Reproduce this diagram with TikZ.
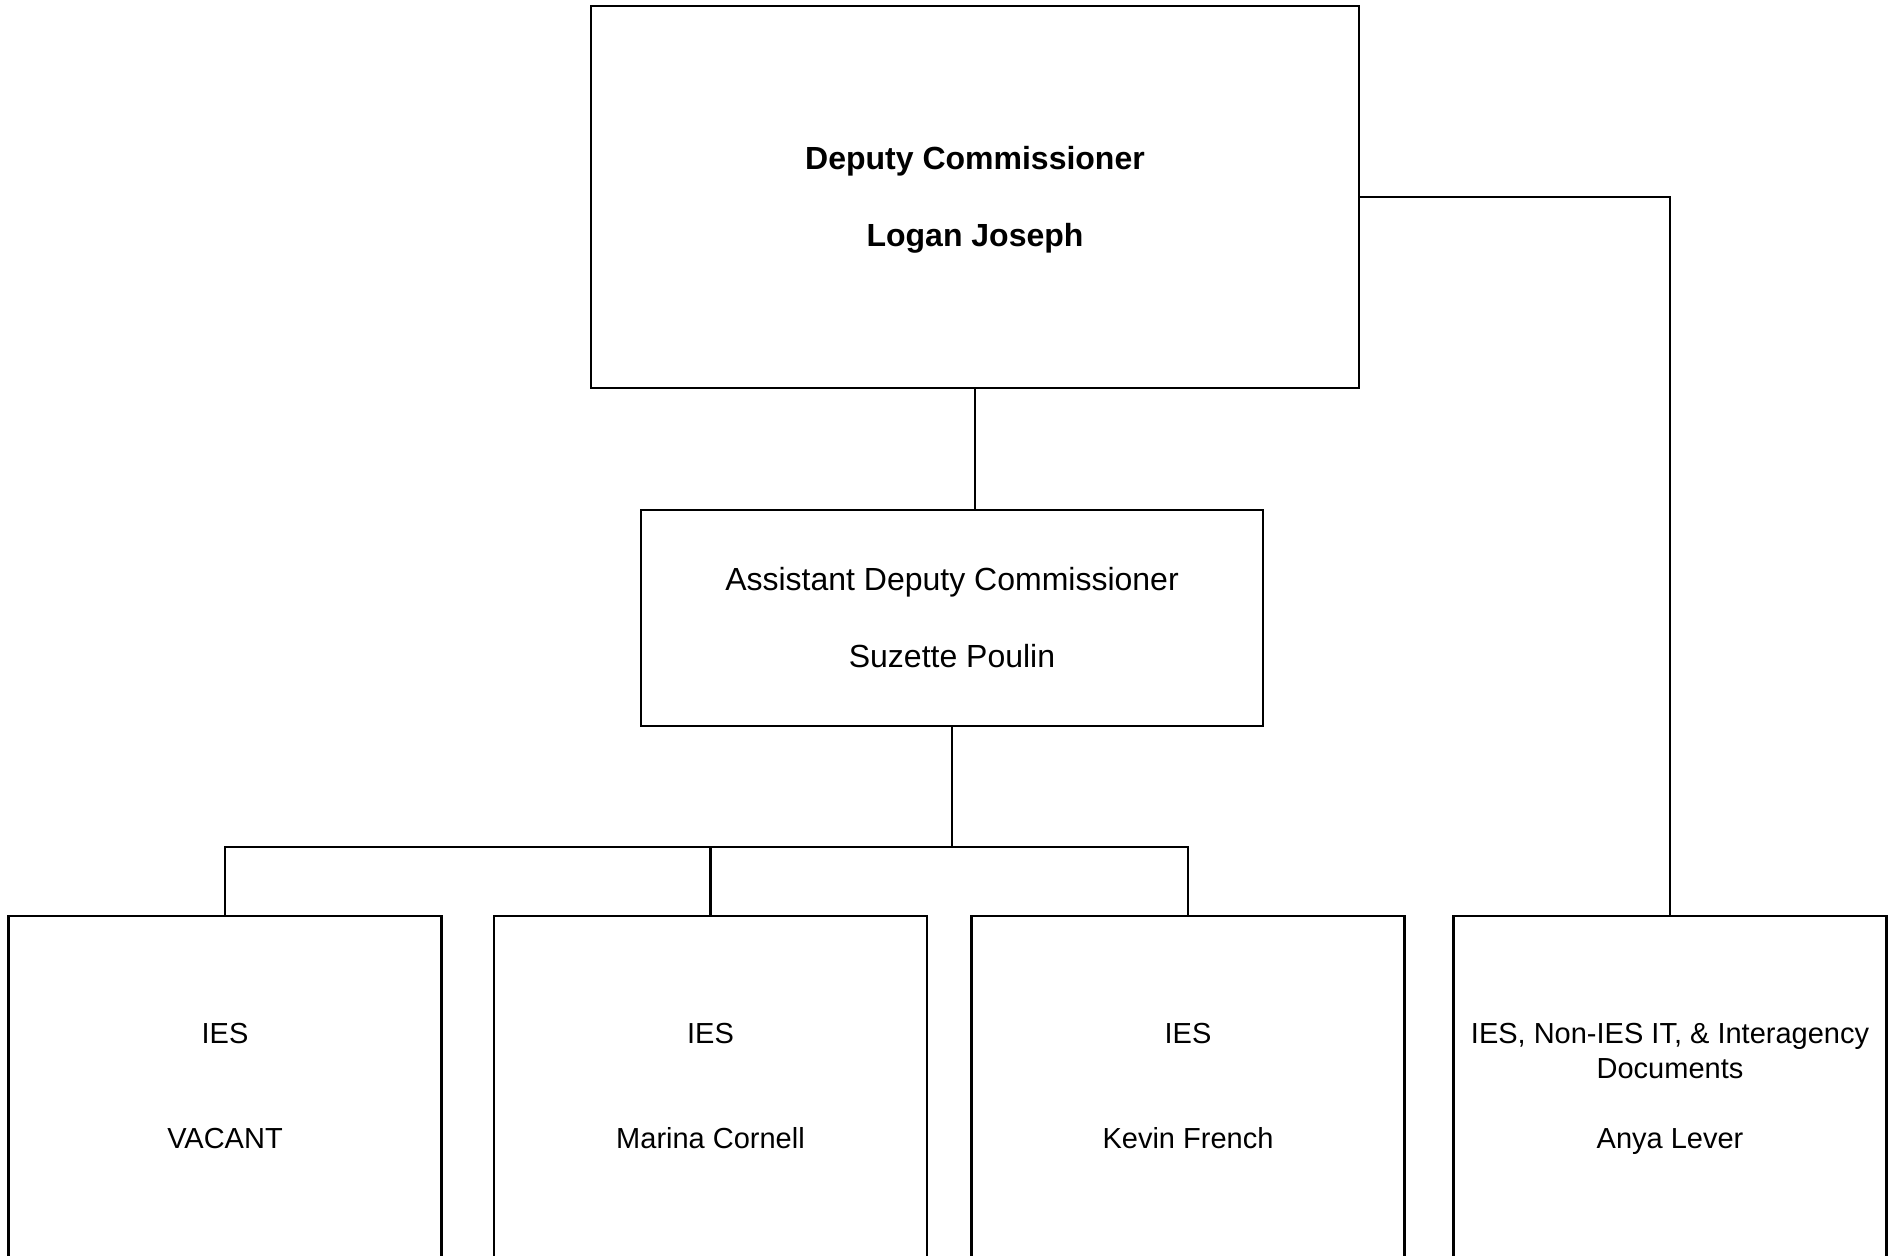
\documentclass[tikz,border=0pt]{standalone}
\usepackage{fontspec}
\setmainfont{Liberation Sans}
\usepackage{tikz}

\newcommand{\headstrut}{\rule{0pt}{16.5pt}}

\tikzset{
    orgbox/.style={rectangle, draw, line width=1.15pt, align=center, inner sep=0pt},
    headbox/.style={orgbox, minimum width=384pt, minimum height=191pt, font=\fontsize{16}{19.25}\selectfont\bfseries},
    midbox/.style={orgbox, minimum width=311pt, minimum height=108pt, font=\fontsize{16}{19.25}\selectfont},
    unitbox/.style={orgbox, minimum width=216.5pt, minimum height=172.5pt, font=\fontsize{14.5}{17.5}\selectfont},
    link/.style={line width=1.15pt}
}

\begin{document}
\begin{tikzpicture}[x=0.5pt, y=-0.5pt]
        \useasboundingbox (0,0) rectangle (1895,1255);
        \clip (0,0) rectangle (1895,1255);

        \node [headbox] (head) at (975,197) {\headstrut Deputy Commissioner\\[\baselineskip]Logan Joseph\strut};
        \node [midbox] (assist) at (952,618) {\headstrut Assistant Deputy Commissioner\\[\baselineskip]Suzette Poulin\strut};

        \node [unitbox] (iesa) at (225,1088.5) {\strut IES\\[2\baselineskip]VACANT\strut};
        \node [unitbox] (iesb) at (710.5,1088.5) {\strut IES\\[2\baselineskip]Marina Cornell\strut};
        \node [unitbox] (iesc) at (1188,1088.5) {\strut IES\\[2\baselineskip]Kevin French\strut};
        \node [unitbox] (docs) at (1670,1088.5) {\strut IES, Non-IES IT, \& Interagency\\Documents\\[\baselineskip]Anya Lever\strut};

        \draw [link] (head.south) -- (head.south |- assist.north);
        \draw [link] (assist.south) -- ++(0,120) coordinate (bus);
        \draw [link] (iesa.north) -- (iesa.north |- bus) -- (iesc.north |- bus) -- (iesc.north);
        \draw [link] (iesb.north) -- (iesb.north |- bus);
        \draw [link] (head.east) -| (docs.north);
\end{tikzpicture}
\end{document}
